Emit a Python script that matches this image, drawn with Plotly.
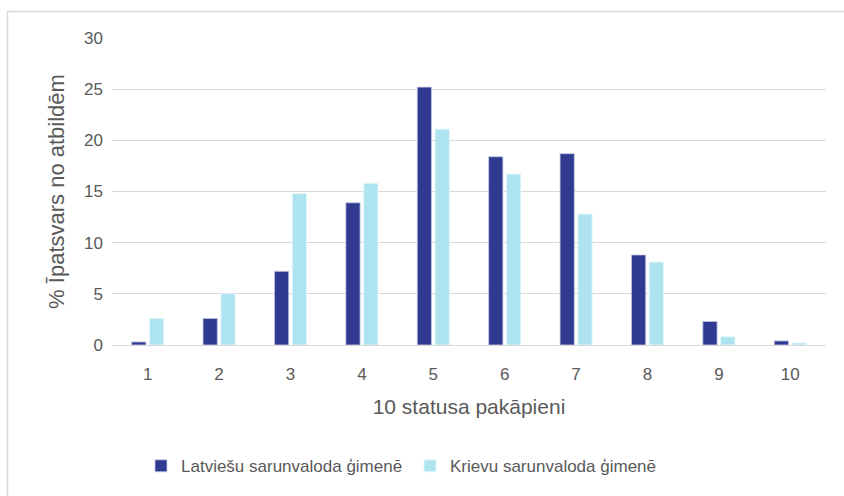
import plotly.graph_objects as go

categories = ["1", "2", "3", "4", "5", "6", "7", "8", "9", "10"]
latviesu = [0.3, 2.6, 7.2, 13.9, 25.2, 18.4, 18.7, 8.8, 2.3, 0.4]
krievu = [2.6, 5.0, 14.8, 15.8, 21.1, 16.7, 12.8, 8.1, 0.8, 0.2]
series_names = ["Latviešu sarunvaloda ģimenē", "Krievu sarunvaloda ģimenē"]
y_ticks = [0, 5, 10, 15, 20, 25, 30]

dark = "#303a91"
light = "#aee4f0"
text_col = "#595959"
narrow = "Liberation Sans Narrow, Liberation Sans, Arial"
arial = "Liberation Sans, Arial"

fig = go.Figure()
fig.add_trace(go.Bar(x=categories, y=latviesu, name=series_names[0],
                     marker=dict(color=dark, line=dict(color="#c8cbe6", width=0.8))))
fig.add_trace(go.Bar(x=categories, y=krievu, name=series_names[1],
                     marker=dict(color=light, line=dict(color="#e6f7fb", width=0.8))))

fig.update_layout(
    width=844, height=496,
    margin=dict(l=112, r=18, t=38, b=151, autoexpand=False),
    paper_bgcolor="white", plot_bgcolor="white",
    barmode="group", bargap=0.5, bargroupgap=0.2,
    showlegend=True,
    legend=dict(orientation="h", x=(141 - 112) / 714, xanchor="left", y=-0.395, yanchor="middle",
                font=dict(family=narrow, size=17, color=text_col),
                itemwidth=30, tracegroupgap=0, entrywidth=224),
    xaxis=dict(
        tickfont=dict(family=narrow, size=17, color=text_col),
        ticklabelstandoff=14,
        title=dict(text="10 statusa pakāpieni", font=dict(family=arial, size=21, color=text_col), standoff=15),
        showline=True, linecolor="#d9d9d9", linewidth=1, ticks="", automargin=False,
    ),
    yaxis=dict(
        range=[0, 30], tickvals=y_ticks,
        tickfont=dict(family=narrow, size=17, color=text_col),
        ticklabelstandoff=8,
        title=dict(text="% Īpatsvars no atbildēm", font=dict(family=arial, size=22, color=text_col), standoff=13),
        showgrid=True, gridcolor="#d9d9d9", gridwidth=1, zeroline=False, ticks="", automargin=False,
    ),
    shapes=[dict(type="rect", xref="paper", yref="paper",
                 x0=(7.5 - 112) / 714, x1=1.2, y0=-0.7, y1=(345 - 11.5) / 307,
                 line=dict(color="#d9d9d9", width=1.5), layer="below")],
)

fig.write_html("out.html", config={"displayModeBar": False},
               post_script="document.body.style.margin='0';")
